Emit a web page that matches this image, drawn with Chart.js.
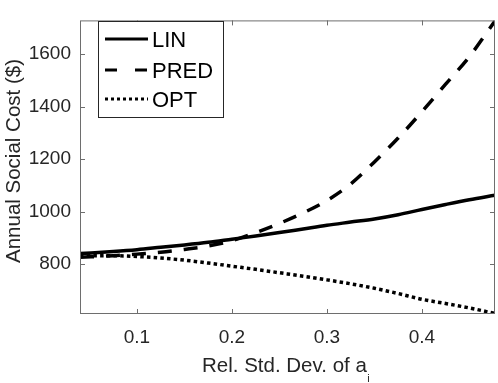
<!DOCTYPE html>
<html>
<head>
<meta charset="utf-8">
<script src="https://cdn.jsdelivr.net/npm/chart.js@4/dist/chart.umd.min.js"></script>
<style>
  html, body { margin: 0; padding: 0; background: #fff; }
  #wrap { width: 498px; height: 383px; position: relative; }
</style>
</head>
<body>
<div id="wrap"><canvas id="costChart" width="498" height="383"></canvas></div>
<script>
// values
const relStd = [0.04, 0.075, 0.1, 0.125, 0.15, 0.175, 0.2, 0.225, 0.25, 0.275, 0.3, 0.325, 0.35, 0.375, 0.4, 0.425, 0.45, 0.477];
const linCost = [840, 848, 855, 864, 873, 883, 895, 907, 920, 934, 948, 960, 972, 988, 1008, 1027, 1045, 1062];
const predCost = [826, 832, 838, 845, 856, 869, 889, 920, 955, 995, 1042, 1105, 1189, 1280, 1380, 1485, 1590, 1726];
const optCost = [831, 832, 829, 823, 815, 804, 792, 780, 767, 754, 740, 725, 708, 688, 666, 650, 633, 612];
const seriesNames = ['LIN', 'PRED', 'OPT'];
const xTicks = [0.1, 0.2, 0.3, 0.4];
const yTicks = [800, 1000, 1200, 1400, 1600];

const FONT = '"Liberation Sans", Arial, Helvetica, sans-serif';
const TEXT = '#262626';
const AXIS = '#6e6e6e';

function toPoints(ys) {
    return relStd.map((x, i) => ({ x: x, y: ys[i] }));
}

const dashes = [[], [14, 12], [3.5, 3.2]];
const legendDashes = [[], [12, 18], [3, 3]];

// box, inward ticks, legend, axis titles
const matlabLook = {
    id: 'matlabLook',
    afterDraw(chart) {
        const ctx = chart.ctx;
        const a = chart.chartArea;
        const xs = chart.scales.x;
        const ys = chart.scales.y;
        ctx.save();
        ctx.strokeStyle = AXIS;
        ctx.lineWidth = 1;
        ctx.setLineDash([]);
        ctx.strokeRect(a.left + 0.5, a.top + 0.5, a.right - a.left - 1, a.bottom - a.top - 1);
        const tl = 5;
        ctx.beginPath();
        xTicks.forEach(v => {
            const px = Math.round(xs.getPixelForValue(v)) + 0.5;
            ctx.moveTo(px, a.bottom); ctx.lineTo(px, a.bottom - tl);
            ctx.moveTo(px, a.top); ctx.lineTo(px, a.top + tl);
        });
        yTicks.forEach(v => {
            const py = Math.round(ys.getPixelForValue(v)) + 0.5;
            ctx.moveTo(a.left, py); ctx.lineTo(a.left + tl, py);
            ctx.moveTo(a.right, py); ctx.lineTo(a.right - tl, py);
        });
        ctx.stroke();

        // legend
        const lx = 98, ly = 21, lw = 125, lh = 96;
        ctx.fillStyle = '#fff';
        ctx.fillRect(lx, ly, lw, lh);
        ctx.strokeStyle = '#262626';
        ctx.strokeRect(lx + 0.5, ly + 0.5, lw, lh);
        const rows = [39, 70, 99];
        chart.data.datasets.forEach((ds, i) => {
            ctx.strokeStyle = '#000';
            ctx.lineWidth = 3;
            ctx.setLineDash(legendDashes[i]);
            ctx.beginPath();
            ctx.moveTo(105, rows[i]);
            ctx.lineTo(148, rows[i]);
            ctx.stroke();
            ctx.setLineDash([]);
            ctx.fillStyle = '#000';
            ctx.font = '22px ' + FONT;
            ctx.textBaseline = 'middle';
            ctx.textAlign = 'left';
            ctx.fillText(ds.label, 152, rows[i] + 2);
        });

        // y title
        ctx.fillStyle = TEXT;
        ctx.font = '20.5px ' + FONT;
        ctx.save();
        ctx.translate(14, 161);
        ctx.rotate(-Math.PI / 2);
        ctx.textAlign = 'center';
        ctx.textBaseline = 'middle';
        ctx.fillText('Annual Social Cost ($)', 0, 0);
        ctx.restore();

        // x title with subscript i
        const main = 'Rel. Std. Dev. of a';
        ctx.font = '20.5px ' + FONT;
        const w1 = ctx.measureText(main).width;
        ctx.textAlign = 'left';
        ctx.textBaseline = 'alphabetic';
        const startX = 202;
        ctx.fillText(main, startX, 371.5);
        ctx.font = '11px ' + FONT;
        ctx.fillText('i', startX + w1 + 0.5, 382);
        ctx.restore();
    }
};

new Chart(document.getElementById('costChart').getContext('2d'), {
    type: 'line',
    data: {
        datasets: [
            { label: seriesNames[0], data: toPoints(linCost), borderDash: dashes[0] },
            { label: seriesNames[1], data: toPoints(predCost), borderDash: dashes[1] },
            { label: seriesNames[2], data: toPoints(optCost), borderDash: dashes[2] }
        ].map(ds => Object.assign(ds, {
            borderColor: '#000',
            borderWidth: 3.5,
            pointRadius: 0,
            fill: false,
            cubicInterpolationMode: 'monotone'
        }))
    },
    options: {
        responsive: false,
        animation: false,
        layout: { padding: { top: 3, right: 3, left: 0, bottom: 0 } },
        plugins: { legend: { display: false }, tooltip: { enabled: false } },
        scales: {
            x: {
                type: 'linear',
                min: 0.04,
                max: 0.477,
                afterBuildTicks: s => { s.ticks = xTicks.map(v => ({ value: v })); },
                afterFit: s => { s.height = 69; },
                grid: { display: false, drawTicks: false },
                border: { display: false },
                ticks: {
                    padding: 12,
                    color: TEXT,
                    font: { family: FONT, size: 19 },
                    maxRotation: 0,
                    callback: v => v.toFixed(1)
                }
            },
            y: {
                min: 610,
                max: 1728,
                afterBuildTicks: s => { s.ticks = yTicks.map(v => ({ value: v })); },
                afterFit: s => { s.width = 80; },
                grid: { display: false, drawTicks: false },
                border: { display: false },
                ticks: {
                    padding: 9,
                    color: TEXT,
                    font: { family: FONT, size: 19 },
                    callback: v => String(v)
                }
            }
        }
    },
    plugins: [matlabLook]
});
</script>
</body>
</html>
